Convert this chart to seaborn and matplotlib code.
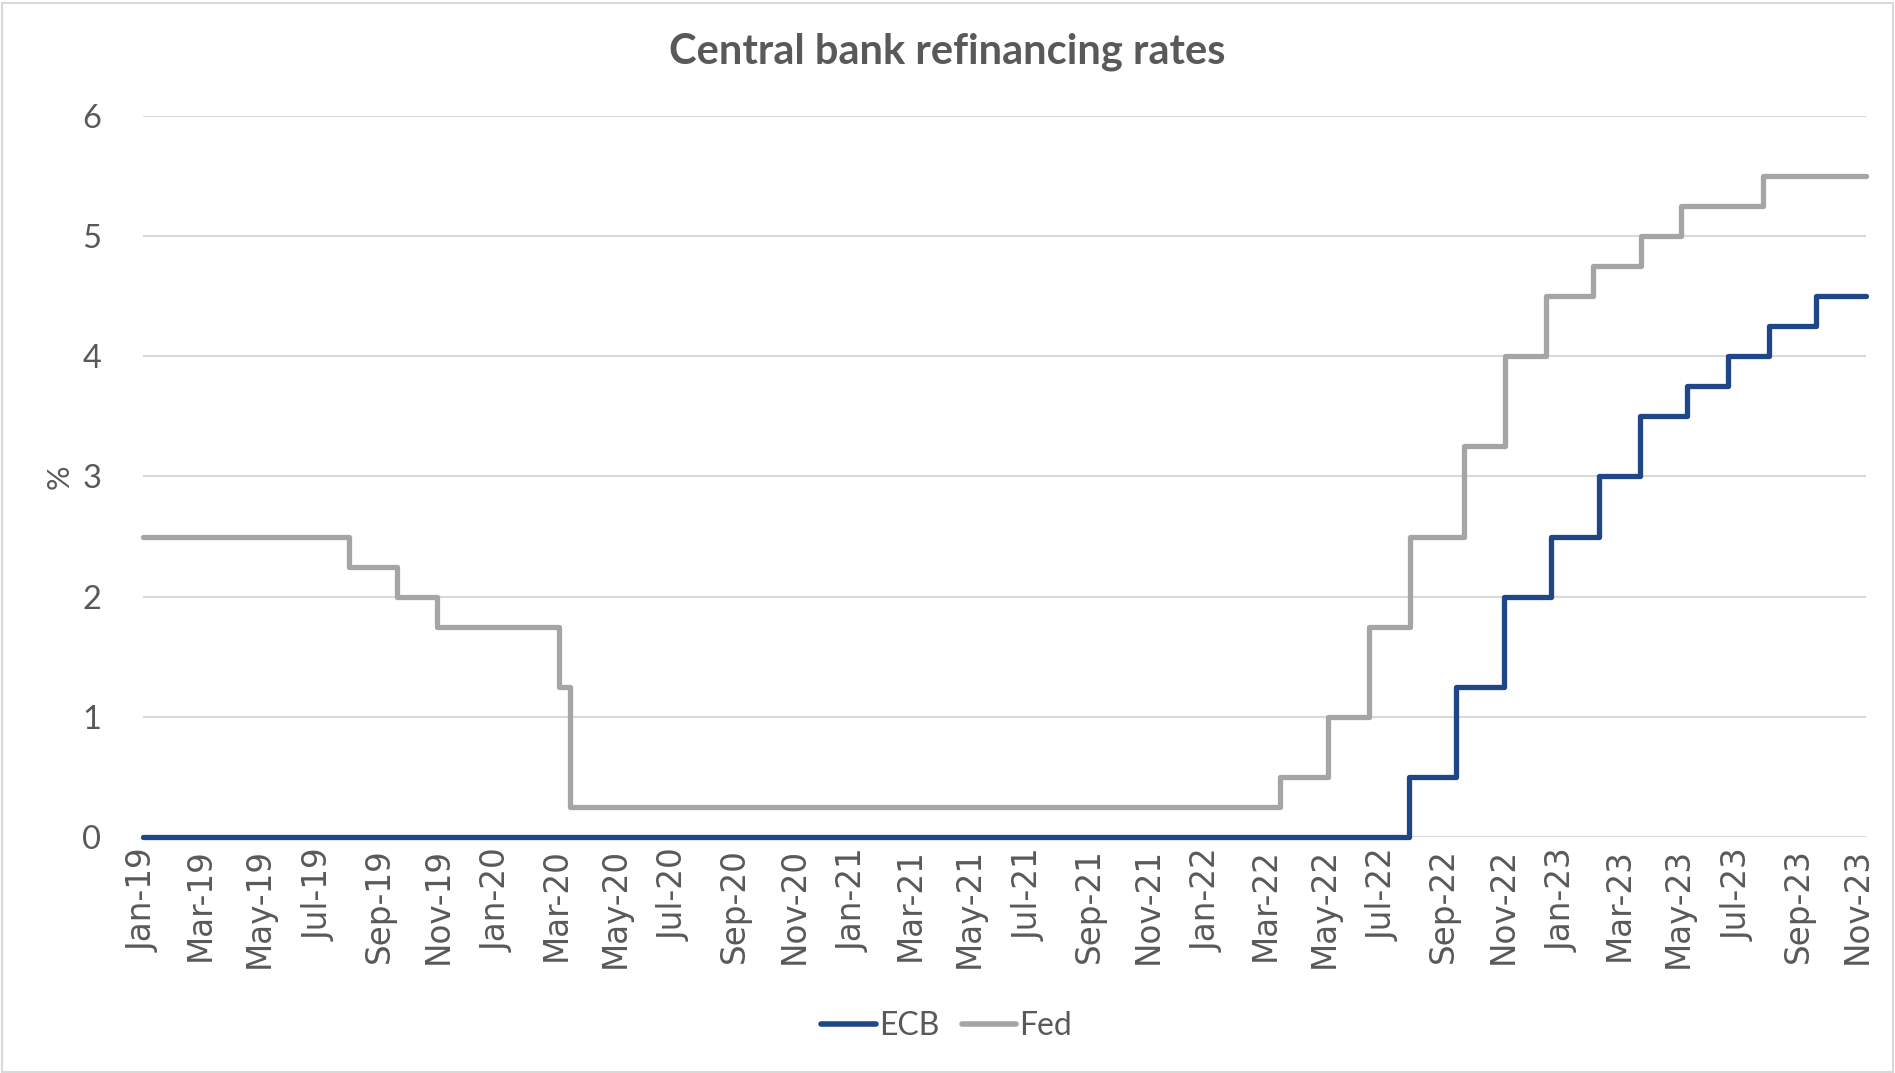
import matplotlib
matplotlib.use("Agg")
import matplotlib.pyplot as plt
import matplotlib.dates as mdates
from matplotlib.patches import Rectangle
import seaborn as sns
import pandas as pd

# ---- data (policy rate change dates and levels) ----
end_date = "2023-11-10"
fed_dates = ["2019-01-01", "2019-08-01", "2019-09-19", "2019-10-31", "2020-03-04",
             "2020-03-16", "2022-03-17", "2022-05-05", "2022-06-16", "2022-07-28",
             "2022-09-22", "2022-11-03", "2022-12-15", "2023-02-02", "2023-03-23",
             "2023-05-04", "2023-07-27", end_date]
fed_rates = [2.5, 2.25, 2.0, 1.75, 1.25, 0.25, 0.5, 1.0, 1.75, 2.5, 3.25, 4.0,
             4.5, 4.75, 5.0, 5.25, 5.5, 5.5]
ecb_dates = ["2019-01-01", "2022-07-27", "2022-09-14", "2022-11-02", "2022-12-21",
             "2023-02-08", "2023-03-22", "2023-05-10", "2023-06-21", "2023-08-02",
             "2023-09-20", end_date]
ecb_rates = [0.0, 0.5, 1.25, 2.0, 2.5, 3.0, 3.5, 3.75, 4.0, 4.25, 4.5, 4.5]
series_names = ["ECB", "Fed"]
title = "Central bank refinancing rates"
y_label = "%"
y_ticks = [0, 1, 2, 3, 4, 5, 6]

df = pd.concat([
    pd.DataFrame({"date": pd.to_datetime(ecb_dates), "rate": ecb_rates, "bank": "ECB"}),
    pd.DataFrame({"date": pd.to_datetime(fed_dates), "rate": fed_rates, "bank": "Fed"}),
], ignore_index=True)

sns.set_theme(style="white")
plt.rcParams["font.family"] = ["Lato", "DejaVu Sans"]
text_color = "#595959"

fig = plt.figure(figsize=(18.95, 10.73), dpi=100)
ax = fig.add_axes([0.0755, 0.2200, 0.9092, 0.6719])

palette = {"ECB": "#1F4788", "Fed": "#A5A5A5"}
sns.lineplot(data=df, x="date", y="rate", hue="bank", hue_order=series_names,
             palette=palette, drawstyle="steps-post", linewidth=3.8,
             ax=ax, legend=True, zorder=3)
for ln in ax.get_lines():
    ln.set_solid_capstyle("round")
    ln.set_solid_joinstyle("round")
    ln.set_clip_on(False)

ax.set_ylim(0, 6)
ax.set_yticks(y_ticks)
ax.set_xlim(pd.Timestamp("2019-01-01"), pd.Timestamp(end_date))
ax.xaxis.set_major_locator(mdates.MonthLocator(bymonth=[1, 3, 5, 7, 9, 11]))
ax.xaxis.set_major_formatter(mdates.DateFormatter("%b-%y"))
ax.grid(axis="y", color="#D9D9D9", linewidth=1.5, zorder=0)
ax.grid(axis="x", visible=False)
for s in ax.spines.values():
    s.set_visible(False)
ax.tick_params(axis="x", labelrotation=90, labelsize=23.5, colors=text_color, length=0, pad=8)
for lbl in ax.get_xticklabels():
    lbl.set_fontfamily("DejaVu Sans")
ax.tick_params(axis="y", labelsize=23.5, colors=text_color, length=0, pad=30)
ax.set_xlabel("")
ax.set_ylabel(y_label, fontsize=22, color=text_color, labelpad=6)

fig.text(0.5, 0.952, title, ha="center", va="center", fontsize=30,
         fontweight="bold", color=text_color)

handles, labels = ax.get_legend_handles_labels()
ax.get_legend().remove()
for h in handles:
    h.set_linewidth(4)
    h.set_solid_capstyle("round")
fig.legend(handles, labels, loc="center", bbox_to_anchor=(0.4995, 0.044), ncol=2,
           frameon=False, fontsize=23, handlelength=1.7, handletextpad=0.1,
           columnspacing=0.7, labelcolor=text_color)

fig.patches.append(Rectangle((0.001, 0.001), 0.998, 0.996, transform=fig.transFigure,
                             fill=False, edgecolor="#D9D9D9", linewidth=1.5))

fig.savefig("out.png", dpi=100, facecolor="white")
